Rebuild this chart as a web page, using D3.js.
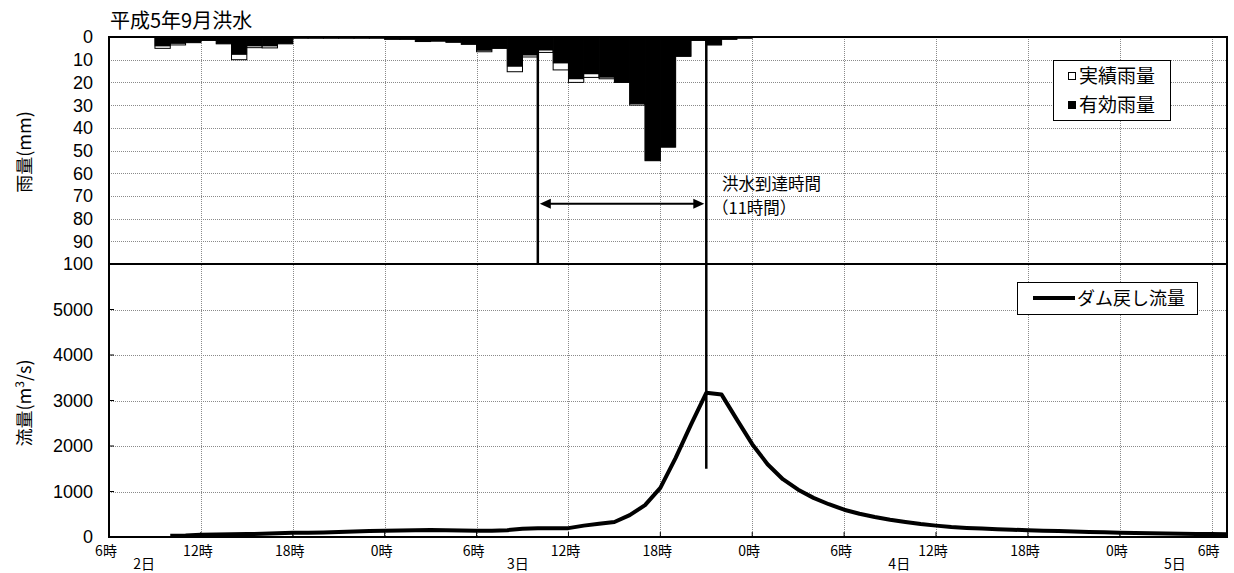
<!DOCTYPE html>
<html>
<head>
<meta charset="utf-8">
<script src="https://cdn.jsdelivr.net/npm/d3@7"></script>
<style>
  body { margin: 0; background: #fff; }
  text { font-family: "Noto Sans CJK JP", "Noto Sans", sans-serif; fill: #000; }
  .num { font-family: "Liberation Sans", Arial, sans-serif; }
  .vtitle { text-rendering: geometricPrecision; }
</style>
</head>
<body>
<svg id="chart" width="1234" height="573"></svg>
<script>
// Hourly rainfall (mm), hour 0 = 2日 6時
const rainHours = d3.range(0, 42);
const rainActual = [0,0,0,5,3.5,2.5,1.5,3,10,4.7,4.8,3,0.5,0.5,0.5,0.5,0.5,0.5,1,1,2,1.8,2.3,3.2,6.5,5,15.3,8.8,6.8,14.5,20,17.8,18.4,20,30,54.5,48.5,8.5,1.5,3.5,1,0.5];
const rainEffective = [0,0,0,4,3,2.5,1.5,3,7.8,4,4,3,0.5,0.5,0.5,0.5,0.5,0.5,1,1,2,1.8,2.3,3.2,6,5,13,8,5.8,11.5,18.5,16.3,17.8,20,29.5,54.5,48.5,8.5,1.5,3.5,1,0.5];

// Hourly dam-restored discharge (m3/s)
const flowHours = d3.range(4, 74);
const flowValues = [30,35,50,55,60,65,70,80,95,95,100,110,120,130,140,145,150,155,150,145,140,140,150,180,195,195,195,250,290,330,480,700,1080,1740,2470,3170,3130,2580,2040,1600,1270,1040,860,720,600,510,440,380,330,285,250,220,200,185,170,160,150,140,130,120,112,104,95,88,82,76,72,68,65,63];

// Axis ticks and labels
const rainTicks = [0,10,20,30,40,50,60,70,80,90,100];
const flowTicks = [0,1000,2000,3000,4000,5000];
const timeTicks = [0,6,12,18,24,30,36,42,48,54,60,66,72];
const timeTickLabels = ["6時","12時","18時","0時","6時","12時","18時","0時","6時","12時","18時","0時","6時"];
const dayLabels = ["2日","3日","4日","5日"];
const dayLabelHours = [2.3, 26.7, 51.6, 69.6];

// Flood arrival time: rainfall reference hour and peak hour
const arrivalHours = [28, 39];
const arrivalText = ["洪水到達時間", "（11時間）"];

const svg = d3.select("#chart");

const x = d3.scaleLinear().domain([0, 73]).range([109, 1227]);
const yRain = d3.scaleLinear().domain([0, 100]).range([37, 264]);
const yFlow = d3.scaleLinear().domain([0, 6000]).range([537, 264]);
const hourW = x(1) - x(0);

// grid
const grid = svg.append("g").attr("stroke", "#8a8a8a").attr("stroke-width", 1).attr("stroke-dasharray", "1,1");
grid.selectAll(".gv").data(timeTicks.filter(t => t > 0)).join("line")
  .attr("x1", d => Math.round(x(d)) + 0.5).attr("x2", d => Math.round(x(d)) + 0.5)
  .attr("y1", yRain(0)).attr("y2", yFlow(0));
grid.selectAll(".gr").data(rainTicks.filter(t => t > 0 && t < 100)).join("line")
  .attr("x1", x(0)).attr("x2", x(73))
  .attr("y1", d => Math.round(yRain(d)) + 0.5).attr("y2", d => Math.round(yRain(d)) + 0.5);
grid.selectAll(".gf").data(flowTicks.filter(t => t > 0)).join("line")
  .attr("x1", x(0)).attr("x2", x(73))
  .attr("y1", d => Math.round(yFlow(d)) + 0.5).attr("y2", d => Math.round(yFlow(d)) + 0.5);

// rainfall bars: actual (white, outlined) then effective (black)
svg.append("g").selectAll("rect").data(rainHours.filter((h, i) => rainActual[i] > 0)).join("rect")
  .attr("x", h => x(h)).attr("width", hourW)
  .attr("y", yRain(0)).attr("height", h => yRain(rainActual[h]) - yRain(0))
  .attr("fill", "#fff").attr("stroke", "#000").attr("stroke-width", 1);
svg.append("g").selectAll("rect").data(rainHours.filter((h, i) => rainEffective[i] > 0)).join("rect")
  .attr("x", h => x(h)).attr("width", hourW)
  .attr("y", yRain(0)).attr("height", h => yRain(rainEffective[h]) - yRain(0))
  .attr("fill", "#000").attr("stroke", "#000").attr("stroke-width", 0.5);

// discharge line
const line = d3.line().x((d, i) => x(flowHours[i])).y(d => yFlow(d));
svg.append("path").datum(flowValues).attr("d", line)
  .attr("fill", "none").attr("stroke", "#000").attr("stroke-width", 4)
  .attr("stroke-linejoin", "round");

// frame
const frame = svg.append("g").attr("stroke", "#000").attr("stroke-width", 2).attr("fill", "none");
frame.append("rect").attr("x", x(0)).attr("y", yRain(0)).attr("width", x(73) - x(0)).attr("height", yFlow(0) - yRain(0));
frame.append("line").attr("x1", x(0)).attr("x2", x(73)).attr("y1", yRain(100)).attr("y2", yRain(100));

// x ticks
svg.append("g").selectAll("line").data(timeTicks).join("line")
  .attr("x1", d => x(d)).attr("x2", d => x(d)).attr("y1", yFlow(0)).attr("y2", yFlow(0) - 5)
  .attr("stroke", "#000").attr("stroke-width", 1);
// y ticks
svg.append("g").selectAll("line").data(flowTicks.filter(t => t > 0)).join("line")
  .attr("x1", x(0)).attr("x2", x(0) + 5).attr("y1", d => yFlow(d)).attr("y2", d => yFlow(d))
  .attr("stroke", "#000").attr("stroke-width", 1);

// arrival time markers
const mk = svg.append("g").attr("stroke", "#000").attr("stroke-width", 2.5);
mk.append("line").attr("x1", x(arrivalHours[0])).attr("x2", x(arrivalHours[0]))
  .attr("y1", yRain(0)).attr("y2", yRain(100));
mk.append("line").attr("x1", x(arrivalHours[1])).attr("x2", x(arrivalHours[1]))
  .attr("y1", yRain(0)).attr("y2", yFlow(1500));
const arrowY = yRain(73.5);
const ax0 = x(arrivalHours[0]) + 2, ax1 = x(arrivalHours[1]) - 2;
svg.append("line").attr("x1", ax0 + 8).attr("x2", ax1 - 8).attr("y1", arrowY).attr("y2", arrowY)
  .attr("stroke", "#000").attr("stroke-width", 2);
svg.append("path").attr("d", `M${ax0},${arrowY} L${ax0 + 11},${arrowY - 5} L${ax0 + 11},${arrowY + 5} Z`).attr("fill", "#000");
svg.append("path").attr("d", `M${ax1},${arrowY} L${ax1 - 11},${arrowY - 5} L${ax1 - 11},${arrowY + 5} Z`).attr("fill", "#000");
svg.append("text").attr("x", 722).attr("y", 190).attr("font-size", 16.5).text(arrivalText[0]);
svg.append("text").attr("x", 712).attr("y", 214).attr("font-size", 16.5).text(arrivalText[1]);

// axis labels
svg.append("g").selectAll("text").data(rainTicks).join("text").attr("class", "num")
  .attr("x", 93).attr("y", d => yRain(d)).attr("dy", "0.36em").attr("text-anchor", "end")
  .attr("font-size", 18).text(d => d);
svg.append("g").selectAll("text").data(flowTicks).join("text").attr("class", "num")
  .attr("x", 93).attr("y", d => yFlow(d)).attr("dy", "0.36em").attr("text-anchor", "end")
  .attr("font-size", 18).text(d => d);
svg.append("g").selectAll("text").data(timeTicks).join("text")
  .attr("x", d => x(d) - 3).attr("y", 556).attr("text-anchor", "middle")
  .attr("font-size", 14).text((d, i) => timeTickLabels[i]);
svg.append("g").selectAll("text").data(dayLabelHours).join("text")
  .attr("x", d => x(d)).attr("y", 569).attr("text-anchor", "middle")
  .attr("font-size", 14).text((d, i) => dayLabels[i]);

// title and axis titles
svg.append("text").attr("x", 110).attr("y", 28).attr("font-size", 20).text("平成5年9月洪水");
svg.append("text").attr("class", "vtitle").attr("transform", "translate(31,152) rotate(-90)").attr("text-anchor", "middle")
  .attr("font-size", 18).text("雨量(mm)");
const ft = svg.append("text").attr("class", "vtitle").attr("transform", "translate(31,403) rotate(-90)").attr("text-anchor", "middle")
  .attr("font-size", 18);
ft.append("tspan").text("流量(m");
ft.append("tspan").attr("font-size", 12).attr("dy", -7).text("3");
ft.append("tspan").attr("dy", 7).text("/s)");

// rainfall legend
const lg = svg.append("g");
lg.append("rect").attr("x", 1053.5).attr("y", 60.5).attr("width", 117).attr("height", 60)
  .attr("fill", "#fff").attr("stroke", "#000");
lg.append("rect").attr("x", 1068.5).attr("y", 72.5).attr("width", 7).attr("height", 7)
  .attr("fill", "#fff").attr("stroke", "#000");
lg.append("rect").attr("x", 1068).attr("y", 101).attr("width", 8).attr("height", 8).attr("fill", "#000");
lg.append("text").attr("x", 1079).attr("y", 83).attr("font-size", 19).text("実績雨量");
lg.append("text").attr("x", 1079).attr("y", 112).attr("font-size", 19).text("有効雨量");

// discharge legend
const lg2 = svg.append("g");
lg2.append("rect").attr("x", 1017.5).attr("y", 282.5).attr("width", 180).attr("height", 32)
  .attr("fill", "#fff").attr("stroke", "#000");
lg2.append("line").attr("x1", 1033).attr("x2", 1075).attr("y1", 298).attr("y2", 298)
  .attr("stroke", "#000").attr("stroke-width", 4);
lg2.append("text").attr("x", 1077).attr("y", 305).attr("font-size", 18).text("ダム戻し流量");
</script>
</body>
</html>
